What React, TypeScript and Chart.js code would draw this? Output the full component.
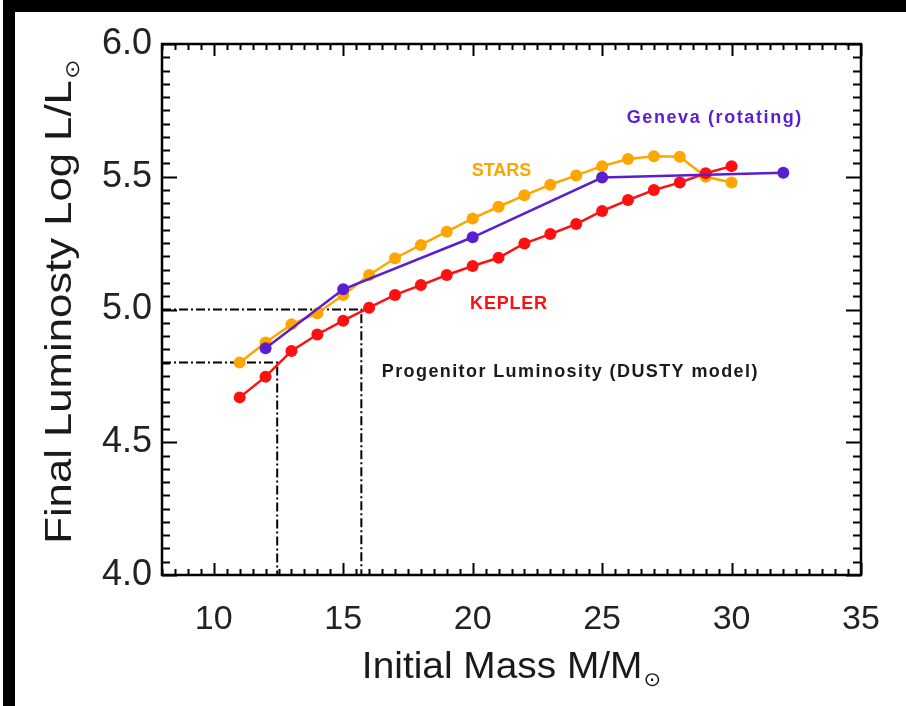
import React, { useEffect, useRef } from 'react';
import { Chart, registerables } from 'chart.js';

Chart.register(...registerables);

// ---- Data ----
const STARS_MASS = [11, 12, 13, 14, 15, 16, 17, 18, 19, 20, 21, 22, 23, 24, 25, 26, 27, 28, 29, 30];
const STARS_LUM = [4.80, 4.876, 4.944, 4.986, 5.055, 5.13, 5.193, 5.243, 5.293, 5.343, 5.387, 5.43, 5.47, 5.505, 5.54, 5.567, 5.577, 5.575, 5.50, 5.478];

const KEPLER_MASS = [11, 12, 13, 14, 15, 16, 17, 18, 19, 20, 21, 22, 23, 24, 25, 26, 27, 28, 29, 30];
const KEPLER_LUM = [4.669, 4.747, 4.844, 4.906, 4.958, 5.007, 5.055, 5.092, 5.13, 5.164, 5.195, 5.249, 5.284, 5.322, 5.371, 5.412, 5.45, 5.478, 5.513, 5.54];

const GENEVA_MASS = [12, 15, 20, 25, 32];
const GENEVA_LUM = [4.854, 5.076, 5.272, 5.497, 5.515];

// Progenitor luminosity guide lines (DUSTY model)
const GUIDE_HIGH_MASS = [8, 15.7, 15.7];
const GUIDE_HIGH_LUM = [5.0, 5.0, 4.0];
const GUIDE_LOW_MASS = [8, 12.45, 12.45];
const GUIDE_LOW_LUM = [4.8, 4.8, 4.0];

const X_TICKS = [10, 15, 20, 25, 30, 35];
const Y_TICKS = [4.0, 4.5, 5.0, 5.5, 6.0];

const X_TITLE = 'Initial Mass M/M';
const Y_TITLE = 'Final Luminosty Log L/L';
const SUN = '\u2299';

const ORANGE = '#FFA500';
const RED = '#FF1010';
const PURPLE = '#5A1ED2';
const INK = '#1a1a1a';

const ANNOTATIONS = [
  { text: 'Geneva (rotating)', x: 25.95, y: 5.72, color: PURPLE, spacing: 1.6 },
  { text: 'STARS', x: 19.96, y: 5.52, color: ORANGE, spacing: 0 },
  { text: 'KEPLER', x: 19.9, y: 5.02, color: RED, spacing: 0.8 },
  { text: 'Progenitor Luminosity (DUSTY model)', x: 16.49, y: 4.765, color: INK, spacing: 1.4 },
];

const FONT = '"Liberation Sans", Arial, Helvetica, sans-serif';

const pts = (xs: number[], ys: number[]) => xs.map((x, i) => ({ x, y: ys[i] }));

const framePlugin = {
  id: 'frameTicks',
  afterDraw(chart: any) {
    const { ctx, chartArea: a, scales } = chart;
    const xs = scales.x;
    const ys = scales.y;
    ctx.save();
    ctx.strokeStyle = '#000';
    ctx.lineWidth = 2;
    // x ticks (top & bottom, inward)
    for (let v = Math.ceil(xs.min * 2) / 2; v <= xs.max + 1e-9; v += 0.5) {
      const px = Math.round(xs.getPixelForValue(v)) + 0.5;
      const major = Math.abs(v / 5 - Math.round(v / 5)) < 1e-6;
      const len = major ? 12 : 6;
      ctx.beginPath();
      ctx.moveTo(px, a.bottom);
      ctx.lineTo(px, a.bottom - len);
      ctx.moveTo(px, a.top);
      ctx.lineTo(px, a.top + len);
      ctx.stroke();
    }
    // y ticks (left & right, inward)
    for (let i = Math.round(ys.min / 0.05); i <= Math.round(ys.max / 0.05); i++) {
      const v = i * 0.05;
      const py = Math.round(ys.getPixelForValue(v)) + 0.5;
      const major = i % 10 === 0;
      const len = major ? 15 : 8;
      ctx.beginPath();
      ctx.moveTo(a.left, py);
      ctx.lineTo(a.left + len, py);
      ctx.moveTo(a.right, py);
      ctx.lineTo(a.right - len, py);
      ctx.stroke();
    }
    ctx.lineWidth = 2.5;
    ctx.strokeRect(a.left, a.top, a.right - a.left, a.bottom - a.top);
    ctx.restore();
  },
};

const textPlugin = {
  id: 'texts',
  afterDatasetsDraw(chart: any) {
    const { ctx, chartArea: a, scales } = chart;
    ctx.save();
    // annotations
    ctx.textBaseline = 'middle';
    ctx.textAlign = 'left';
    ctx.font = `bold 18px ${FONT}`;
    for (const n of ANNOTATIONS) {
      ctx.fillStyle = n.color;
      (ctx as any).letterSpacing = `${n.spacing}px`;
      ctx.fillText(n.text, scales.x.getPixelForValue(n.x), scales.y.getPixelForValue(n.y));
    }
    (ctx as any).letterSpacing = '0px';
    ctx.restore();

    // axis titles with subscript sun symbol
    ctx.save();
    ctx.fillStyle = INK;
    ctx.textBaseline = 'alphabetic';
    ctx.textAlign = 'left';
    const mainFont = `37px ${FONT}`;
    const subFont = `20px "DejaVu Sans", ${FONT}`;
    // x title
    ctx.font = mainFont;
    const w1 = ctx.measureText(X_TITLE).width;
    ctx.font = subFont;
    const w2 = ctx.measureText(SUN).width;
    ctx.translate((a.left + a.right) / 2, 666);
    ctx.scale(1.05, 1);
    const sx = -(w1 + w2 + 1) / 2;
    ctx.font = mainFont;
    ctx.fillText(X_TITLE, sx, 0);
    ctx.font = subFont;
    ctx.fillText(SUN, sx + w1 + 1, 8);
    ctx.restore();

    // y title
    ctx.save();
    ctx.fillStyle = INK;
    ctx.textBaseline = 'alphabetic';
    ctx.textAlign = 'left';
    ctx.font = mainFont;
    const v1 = ctx.measureText(Y_TITLE).width;
    ctx.font = subFont;
    const v2 = ctx.measureText(SUN).width;
    ctx.translate(43, (a.top + a.bottom) / 2 - 8);
    ctx.rotate(-Math.PI / 2);
    ctx.scale(1.18, 1);
    const st = -(v1 + v2 + 1) / 2;
    ctx.font = mainFont;
    ctx.fillText(Y_TITLE, st, 13);
    ctx.font = subFont;
    ctx.fillText(SUN, st + v1 + 1, 21);
    ctx.restore();
  },
};

export default function App() {
  const ref = useRef<HTMLCanvasElement>(null);

  useEffect(() => {
    document.body.style.margin = '0';
    const canvas = ref.current;
    if (!canvas) return;
    const series = (label: string, xs: number[], ys: number[], color: string, order: number) => ({
      label,
      data: pts(xs, ys),
      showLine: true,
      borderColor: color,
      backgroundColor: color,
      pointBackgroundColor: color,
      pointBorderColor: color,
      pointBorderWidth: 0,
      pointRadius: 6,
      borderWidth: 2.5,
      order,
    });
    const guide = (label: string, xs: number[], ys: number[]) => ({
      label,
      data: pts(xs, ys),
      showLine: true,
      borderColor: '#000',
      borderWidth: 2,
      borderDash: [9, 3, 2, 3],
      pointRadius: 0,
      order: 5,
    });
    const chart = new Chart(canvas, {
      type: 'scatter',
      data: {
        datasets: [
          series('Geneva (rotating)', GENEVA_MASS, GENEVA_LUM, PURPLE, 1),
          series('KEPLER', KEPLER_MASS, KEPLER_LUM, RED, 2),
          series('STARS', STARS_MASS, STARS_LUM, ORANGE, 3),
          guide('DUSTY high', GUIDE_HIGH_MASS, GUIDE_HIGH_LUM),
          guide('DUSTY low', GUIDE_LOW_MASS, GUIDE_LOW_LUM),
        ] as any,
      },
      options: {
        responsive: false,
        animation: false,
        devicePixelRatio: 1,
        layout: { padding: { left: 0, top: 32, right: 45, bottom: 0 } },
        plugins: { legend: { display: false }, tooltip: { enabled: false } },
        scales: {
          x: {
            type: 'linear',
            min: 8,
            max: 35,
            afterBuildTicks: (s: any) => {
              s.ticks = X_TICKS.map((v) => ({ value: v }));
            },
            afterFit: (s: any) => {
              s.height = 131;
            },
            grid: { display: false, drawTicks: false },
            border: { display: false },
            ticks: {
              padding: 24,
              autoSkip: false,
              maxRotation: 0,
              color: '#222',
              font: { family: FONT, size: 34 },
            },
          },
          y: {
            type: 'linear',
            min: 4,
            max: 6,
            afterBuildTicks: (s: any) => {
              s.ticks = Y_TICKS.map((v) => ({ value: v }));
            },
            afterFit: (s: any) => {
              s.width = 147;
            },
            grid: { display: false, drawTicks: false },
            border: { display: false },
            ticks: {
              padding: 10,
              autoSkip: false,
              color: '#222',
              font: { family: FONT, size: 36 },
              callback: (v: any) => Number(v).toFixed(1),
            },
          },
        },
      } as any,
      plugins: [textPlugin, framePlugin],
    });
    return () => chart.destroy();
  }, []);

  return (
    <div style={{ position: 'relative', width: 906, height: 706, background: '#fff', overflow: 'hidden' }}>
      <div style={{ position: 'absolute', left: 3, top: 0, width: 12, height: 706, background: '#000' }} />
      <div style={{ position: 'absolute', left: 3, top: 0, width: 903, height: 12, background: '#000' }} />
      <canvas ref={ref} width={891} height={694} style={{ position: 'absolute', left: 15, top: 12, background: '#fff' }} />
    </div>
  );
}
